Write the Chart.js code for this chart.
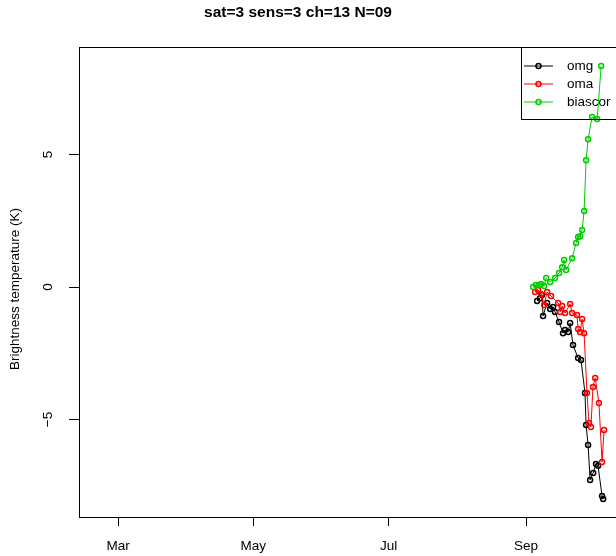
<!DOCTYPE html>
<html>
<head>
<meta charset="utf-8">
<script src="https://cdn.jsdelivr.net/npm/chart.js@4.4.1/dist/chart.umd.min.js"></script>
<style>
  html, body { margin: 0; padding: 0; background: #fff; overflow: hidden; }
  #wrap { width: 660px; height: 556px; }
</style>
</head>
<body>
<div id="wrap"><canvas id="chart" width="660" height="556"></canvas></div>
<script>
// x = day of year (2009), y = brightness temperature (K)
const monthTicks = [60, 121, 182, 244];
const monthLabels = ['Mar', 'May', 'Jul', 'Sep'];
const yTicks = [-5, 0, 5];

const omgDay = [249.0, 250.3, 251.2, 251.7, 253.5, 254.9, 256.2, 257.1, 258.9, 260.7, 261.6, 263.0, 263.9,
  265.2, 267.5, 268.8, 270.6, 271.1, 272.0, 272.9, 274.3, 275.6, 276.5, 278.3, 278.8];
const omgVal = [-0.53, -0.42, -0.30, -1.09, -0.60, -0.83, -0.75, -0.94, -1.32, -1.74, -1.62, -1.70, -1.36,
  -2.19, -2.68, -2.75, -4.00, -5.21, -5.96, -7.28, -7.02, -6.68, -6.75, -7.89, -8.00];

const omaDay = [248.1, 249.4, 250.8, 252.2, 253.5, 255.3, 258.5, 259.4, 260.3, 261.6, 263.9, 264.8, 267.0,
  267.5, 268.4, 269.3, 270.2, 271.5, 272.4, 273.3, 274.2, 275.2, 276.9, 278.3, 279.2];
const omaVal = [-0.19, -0.11, -0.26, -0.68, -0.19, -0.34, -0.60, -0.94, -0.72, -0.98, -0.64, -0.98, -1.06,
  -1.58, -1.70, -1.21, -1.74, -4.00, -5.13, -5.28, -3.77, -3.43, -4.38, -6.60, -5.40];

const biasDay = [247.2, 248.5, 249.9, 250.8, 252.2, 253.1, 254.9, 257.1, 258.9, 260.3, 261.2, 262.1, 264.8,
  266.6, 267.5, 268.4, 269.3, 270.2, 271.1, 272.0, 273.8, 276.1, 277.9];
const biasVal = [0.00, 0.08, 0.08, 0.11, 0.04, 0.34, 0.19, 0.34, 0.53, 0.75, 1.02, 0.64, 1.09,
  1.66, 1.89, 1.92, 2.15, 2.87, 4.79, 5.58, 6.42, 6.34, 8.34];

const seriesNames = ['omg', 'oma', 'biascor'];
const seriesColors = ['#000000', '#ff0000', '#00cc00'];

function pts(days, vals) {
  return days.map((d, i) => ({ x: d, y: vals[i] }));
}

function ds(i, days, vals, order) {
  return {
    label: seriesNames[i],
    data: pts(days, vals),
    borderColor: seriesColors[i],
    backgroundColor: 'rgba(0,0,0,0)',
    borderWidth: 1,
    pointRadius: 2.5,
    pointBorderWidth: 1.5,
    pointBorderColor: seriesColors[i],
    tension: 0,
    order: order
  };
}

const FONT = '"Liberation Sans", Arial, sans-serif';
const FS = 13.5;

// box, title, rotated y labels and R-style legend
const rDecor = {
  id: 'rDecor',
  afterDraw(chart) {
    const ctx = chart.ctx;
    const a = chart.chartArea;
    ctx.save();
    ctx.strokeStyle = '#000';
    ctx.lineWidth = 1;
    ctx.strokeRect(Math.round(a.left) + 0.5, Math.round(a.top) + 0.5, Math.round(a.right - a.left), Math.round(a.bottom - a.top));

    ctx.fillStyle = '#000';
    ctx.font = 'bold 15.5px ' + FONT;
    ctx.textAlign = 'center';
    ctx.textBaseline = 'middle';
    ctx.fillText('sat=3 sens=3 ch=13 N=09', 298, 13);

    ctx.font = FS + 'px ' + FONT;
    const ys = chart.scales.y;
    yTicks.forEach(v => {
      const py = ys.getPixelForValue(v);
      ctx.save();
      ctx.translate(48, py);
      ctx.rotate(-Math.PI / 2);
      ctx.fillText(String(v).replace('-', '\u2212'), 0, 0);
      ctx.restore();
    });
    ctx.save();
    ctx.translate(15, 289);
    ctx.rotate(-Math.PI / 2);
    ctx.fillText('Brightness temperature (K)', 0, 0);
    ctx.restore();

    // legend
    const lx = 521, ly = Math.round(a.top) + 0.5;
    ctx.strokeRect(lx + 0.5, ly, a.right - lx, 72);
    ctx.textAlign = 'left';
    seriesNames.forEach((n, i) => {
      const yy = 66 + i * 18;
      ctx.strokeStyle = seriesColors[i];
      ctx.beginPath();
      ctx.moveTo(524, yy);
      ctx.lineTo(553, yy);
      ctx.stroke();
      ctx.lineWidth = 1.5;
      ctx.beginPath();
      ctx.arc(538.5, yy, 2.5, 0, Math.PI * 2);
      ctx.stroke();
      ctx.lineWidth = 1;
      ctx.fillStyle = '#000';
      ctx.fillText(n, 567, yy);
    });
    ctx.restore();
  }
};

new Chart(document.getElementById('chart'), {
  type: 'line',
  data: {
    datasets: [
      ds(0, omgDay, omgVal, 3),
      ds(1, omaDay, omaVal, 2),
      ds(2, biasDay, biasVal, 1)
    ]
  },
  options: {
    responsive: false,
    animation: false,
    layout: { padding: { top: 47, right: 32, left: 0, bottom: 0 } },
    plugins: {
      legend: { display: false },
      title: { display: false },
      tooltip: { enabled: false }
    },
    scales: {
      x: {
        type: 'linear',
        min: 42.4,
        max: 290.0,
        afterBuildTicks: s => { s.ticks = monthTicks.map(v => ({ value: v })); },
        afterFit: s => { s.height = 556 - 517; },
        grid: { drawOnChartArea: false, drawTicks: true, tickLength: 9, color: '#000' },
        border: { display: false },
        ticks: {
          color: '#000',
          font: { family: FONT, size: FS },
          padding: 12,
          maxRotation: 0,
          autoSkip: false,
          callback: v => monthLabels[monthTicks.indexOf(v)] || ''
        }
      },
      y: {
        type: 'linear',
        min: -8.68,
        max: 9.06,
        afterBuildTicks: s => { s.ticks = yTicks.map(v => ({ value: v })); },
        afterFit: s => { s.width = 79; },
        grid: { drawOnChartArea: false, drawTicks: true, tickLength: 10, color: '#000' },
        border: { display: false },
        ticks: { display: false }
      }
    }
  },
  plugins: [rDecor]
});
</script>
</body>
</html>
